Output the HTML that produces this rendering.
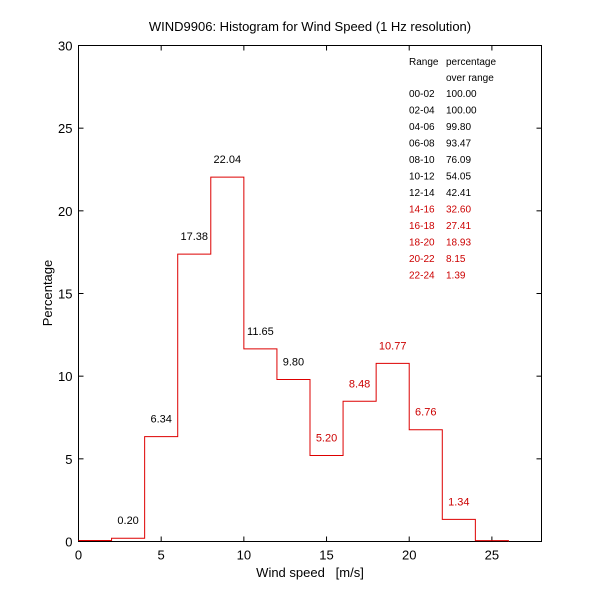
<!DOCTYPE html>
<html><head><meta charset="utf-8"><style>
body{margin:0;background:#fff;}
svg{font-family:"Liberation Sans",Arial,sans-serif;}
</style></head><body>
<svg id="chart" width="600" height="610" xmlns="http://www.w3.org/2000/svg">
<rect x="0" y="0" width="600" height="610" fill="#fff"/>
<text x="310" y="31" font-size="13" text-anchor="middle">WIND9906: Histogram for Wind Speed (1 Hz resolution)</text>
<g id="axes"></g>
<g id="bars"></g>
<g id="table"></g>
<text x="310" y="577" font-size="13" text-anchor="middle">Wind speed&#160;&#160;&#160;[m/s]</text>
<text transform="translate(52,293) rotate(-90)" font-size="13" text-anchor="middle">Percentage</text>
</svg>
<script>
const binEdges=[0,2,4,6,8,10,12,14,16,18,20,22,24];
const binValues=[0,0.20,6.34,17.38,22.04,11.65,9.80,5.20,8.48,10.77,6.76,1.34,0.05];
const binLabels=["","0.20","6.34","17.38","22.04","11.65","9.80","5.20","8.48","10.77","6.76","1.34",""];
const labelColors=["#000","#000","#000","#000","#000","#000","#000","#c00","#c00","#c00","#c00","#c00","#c00"];
const xTicks=[0,5,10,15,20,25];
const yTicks=[0,5,10,15,20,25,30];
const tableRanges=["00-02","02-04","04-06","06-08","08-10","10-12","12-14","14-16","16-18","18-20","20-22","22-24"];
const tablePercents=["100.00","100.00","99.80","93.47","76.09","54.05","42.41","32.60","27.41","18.93","8.15","1.39"];

const NS="http://www.w3.org/2000/svg";
const L=78.5,R=541.5,T=45.5,B=541.5,XMAX=28,YMAX=30,BW=2;
const xs=v=>L+(R-L)*v/XMAX;
const ys=v=>B-(B-T)*v/YMAX;
function mk(tag,attrs,parent,text){const e=document.createElementNS(NS,tag);for(const k in attrs)e.setAttribute(k,attrs[k]);if(text!==undefined)e.textContent=text;parent.appendChild(e);return e;}
const axes=document.getElementById('axes');
const box=mk('rect',{x:L,y:T,width:R-L,height:B-T,fill:'none',stroke:'#000','stroke-width':1},axes);


xTicks.forEach(t=>{
  const x=xs(t);
  mk('line',{x1:x,y1:B,x2:x,y2:B-5,stroke:'#000'},axes);
  mk('line',{x1:x,y1:T,x2:x,y2:T+5,stroke:'#000'},axes);
  const tx=mk('text',{x:x,y:B+18,'font-size':13,'text-anchor':'middle'},axes,String(t));
  
  
});
yTicks.forEach(t=>{
  const y=ys(t);
  mk('line',{x1:L,y1:y,x2:L+5,y2:y,stroke:'#000'},axes);
  mk('line',{x1:R,y1:y,x2:R-5,y2:y,stroke:'#000'},axes);
  const ty=mk('text',{x:L-6,y:y+5,'font-size':13,'text-anchor':'end'},axes,String(t));
  
  
});
const bars=document.getElementById('bars');
let d='M'+xs(binEdges[0])+','+(ys(0)-1);
binValues.forEach((v,i)=>{
  const x0=xs(binEdges[i]),x1=xs(binEdges[i]+BW);
  const y=v===0?ys(0)-1:ys(v);
  d+=' L'+x0+','+y+' L'+x1+','+y;
});
d+=' L'+xs(binEdges[binEdges.length-1]+BW)+','+ys(0);
const p=mk('path',{d:d,fill:'none',stroke:'#d00','stroke-width':1},bars);


binValues.forEach((v,i)=>{
  if(!binLabels[i])return;
  const t=mk('text',{x:xs(binEdges[i]+BW/2),y:ys(v)-14,'font-size':11,'text-anchor':'middle',fill:labelColors[i]},bars,binLabels[i]);
  
  
});
const table=document.getElementById('table');
const h1=mk('text',{x:409,y:65,'font-size':10},table,'Range');


const h2=mk('text',{x:446,y:65,'font-size':10},table,'percentage');


const h3=mk('text',{x:446,y:81,'font-size':10},table,'over range');


tableRanges.forEach((r,i)=>{
  const y=97+i*16.5;
  const c=i>=7?'#c00':'#000';
  const a=mk('text',{x:409,y:y,'font-size':10,fill:c},table,r);
  
  
  const b=mk('text',{x:446,y:y,'font-size':10,fill:c},table,tablePercents[i]);
  
  
});
</script>
</body></html>
